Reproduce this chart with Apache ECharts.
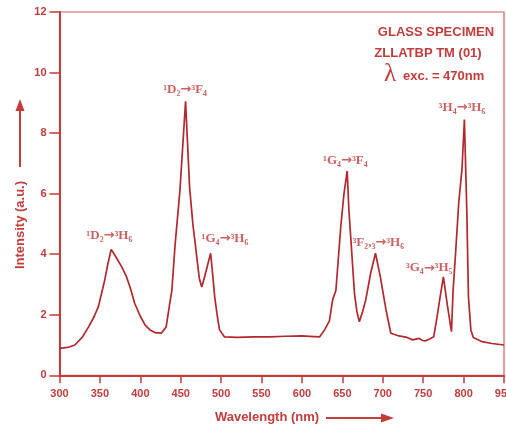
<!DOCTYPE html>
<html><head><meta charset="utf-8">
<script src="https://cdn.jsdelivr.net/npm/echarts@6/dist/echarts.min.js"></script>
<style>html,body{margin:0;padding:0;background:#fff}#c{width:506px;height:427px}</style>
</head><body><div id="c"></div>
<script>
var wavelength = [300,310,319,328,336,343,348,352,356,360,364,370,377,383,388,393,400,406,412,418,426,432,436,439,443,449,456,461,465,469,473,476,479,487,490,492,495,498,504,520,540,560,580,600,615,622,628,634,638,642,648,652,656,658,661,665,668,671,675,679,685,691,697,704,710,720,730,737,745,749,753,758,763,767,771,775,780,785,787,790,794,798,801,804,806,809,812,823,835,850];
var intensity = [0.89,0.92,1.0,1.25,1.6,1.95,2.26,2.7,3.15,3.7,4.16,3.9,3.58,3.25,2.85,2.38,1.95,1.66,1.5,1.41,1.39,1.6,2.3,2.8,4.3,6.1,9.05,6.2,5.0,4.1,3.2,2.92,3.2,4.03,3.2,2.6,2.0,1.5,1.27,1.25,1.27,1.27,1.29,1.30,1.28,1.27,1.5,1.8,2.5,2.8,4.9,6.0,6.75,5.5,4.3,2.7,2.1,1.77,2.1,2.5,3.37,4.03,3.25,2.16,1.39,1.3,1.25,1.17,1.22,1.15,1.14,1.2,1.27,1.9,2.6,3.25,2.3,1.44,2.8,4.0,5.7,6.8,8.45,5.4,2.6,1.5,1.25,1.11,1.05,1.0];
var xTickLabels = {300:'300',350:'350',400:'400',450:'450',500:'500',550:'550',600:'600',650:'650',700:'700',750:'750',800:'800',850:'950'};
var yTickLabels = ['0','2','4','6','8','10','12'];
var annWavelength = [361.7,455.4,504.7,653.7,694.4,757.3,798];
var annIntensity = [4.6,9.42,4.5,7.1,4.37,3.54,8.85];
var annText = ['¹D₂→³H₆','¹D₂→³F₄','¹G₄→³H₆','¹G₄→³F₄','³F₂,₃→³H₆','³G₄→³H₅','³H₄→³H₆'];
var titleLines = ['GLASS SPECIMEN','ZLLATBP TM (01)','exc. = 470nm'];

var RED = '#c43c3c', CURVE = '#b3282d';
var chart = echarts.init(document.getElementById('c'));
chart.setOption({
  animation:false,
  grid:{left:59.5,right:2,top:12,bottom:51.7,show:true,borderColor:'#d46060',borderWidth:1.2,containLabel:false,outerBoundsMode:'none'},
  xAxis:{type:'value',min:300,max:850,interval:50,
    axisLine:{onZero:false,lineStyle:{color:RED,width:2}},
    axisTick:{length:8,lineStyle:{color:RED,width:1.5}},
    splitLine:{show:false},
    axisLabel:{color:RED,fontFamily:'Liberation Sans',fontWeight:'bold',fontSize:11,margin:13,hideOverlap:false,
      formatter:function(v){return xTickLabels[v]!==undefined?xTickLabels[v]:'';}}},
  yAxis:{type:'value',min:0,max:12,interval:2,
    axisLine:{show:true,lineStyle:{color:RED,width:2}},
    axisTick:{show:true,length:10,lineStyle:{color:RED,width:1.5}},
    splitLine:{show:false},
    axisLabel:{color:RED,fontFamily:'Liberation Sans',fontWeight:'bold',fontSize:11,margin:13,
      formatter:function(v){return yTickLabels[v/2];}}},
  series:[
    {type:'line',data:wavelength.map(function(w,i){return [w,intensity[i]];}),
     showSymbol:false,smooth:false,lineStyle:{color:CURVE,width:1.7},z:3},
    {type:'scatter',symbolSize:0,silent:true,
     data:annWavelength.map(function(w,i){return {value:[w,annIntensity[i]],name:annText[i]};}),
     label:{show:true,position:'inside',color:'#c03a3a',
       formatter:function(p){var s=p.name.split('→');return '{t|'+s[0]+'}{a|→}{t|'+s[1]+'}';},
       rich:{t:{fontFamily:'Liberation Serif',fontWeight:'bold',fontSize:13,color:'#c03a3a'},
             a:{fontFamily:'DejaVu Sans',fontWeight:'bold',fontSize:13,color:'#c03a3a'}}}}
  ],
  graphic:[
    {type:'text',x:436,y:32,style:{text:titleLines[0],fill:RED,font:'bold 13px "Liberation Sans"',align:'center',verticalAlign:'middle'}},
    {type:'text',x:428,y:53,style:{text:titleLines[1],fill:RED,font:'bold 13px "Liberation Sans"',align:'center',verticalAlign:'middle'}},
    {type:'text',x:384,y:74,style:{text:'λ',fill:RED,font:'25px "Liberation Serif"',align:'left',verticalAlign:'middle'}},
    {type:'text',x:403,y:76,style:{text:titleLines[2],fill:RED,font:'bold 13px "Liberation Sans"',align:'left',verticalAlign:'middle'}},
    {type:'text',x:20,y:225,rotation:Math.PI/2,style:{text:'Intensity (a.u.)',fill:RED,font:'bold 13px "Liberation Sans"',align:'center',verticalAlign:'middle'}},
    {type:'line',shape:{x1:20,y1:167,x2:20,y2:110},style:{stroke:RED,lineWidth:2}},
    {type:'polygon',shape:{points:[[20,99],[15.5,111],[24.5,111]]},style:{fill:RED}},
    {type:'text',x:267,y:417,style:{text:'Wavelength (nm)',fill:RED,font:'bold 13px "Liberation Sans"',align:'center',verticalAlign:'middle'}},
    {type:'line',shape:{x1:326,y1:418,x2:382,y2:418},style:{stroke:RED,lineWidth:2}},
    {type:'polygon',shape:{points:[[394,418],[381,413.5],[381,422.5]]},style:{fill:RED}}
  ]
});
</script></body></html>
